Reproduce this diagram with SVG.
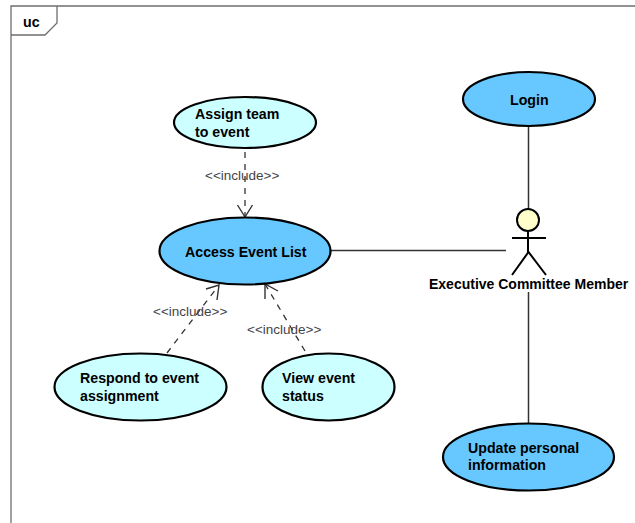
<svg xmlns="http://www.w3.org/2000/svg" width="635" height="523" viewBox="0 0 635 523">
<defs>
<style>
.frame{fill:none;stroke:#6e6e6e;stroke-width:1.3}
.uc{stroke:#000;stroke-width:2.2}
.blue{fill:#66c8ff}
.cyan{fill:#ccffff}
.t{font-family:"Liberation Sans",Arial,sans-serif;font-size:14.2px;font-weight:bold;fill:#000}
.a{font-size:14px}
.inc{font-family:"Liberation Sans",Arial,sans-serif;font-size:13.5px;fill:#444}
.assoc{fill:none;stroke:#333;stroke-width:1.5}
.dash{fill:none;stroke:#333;stroke-width:1.3;stroke-dasharray:6 6}
.head{fill:none;stroke:#333;stroke-width:1.4}
.stick{fill:none;stroke:#000;stroke-width:2}
</style>
</defs>
<rect x="0" y="0" width="635" height="523" fill="#fff"/>
<g id="frame">
<path class="frame" d="M11 523V6H635"/>
<path class="frame" d="M11 35H45L57 23V6"/>
<text class="t" x="23" y="27">uc</text>
</g>
<g id="connectors">
<path class="assoc" d="M528.500 127V209"/>
<path class="assoc" d="M331 250.500H506"/>
<path class="assoc" d="M528.500 292V423"/>
<path class="dash" d="M245 152V216"/>
<path class="head" d="M237.500 205L245 217L252.500 205"/>
<path class="dash" d="M167 353L219 285"/>
<path class="head" d="M206 289L219 285L217 300"/>
<path class="dash" d="M305 351L265 284"/>
<path class="head" d="M265 299L265 284L278 291"/>
<text class="inc" x="205" y="180">&lt;&lt;include&gt;&gt;</text>
<text class="inc" x="153" y="316">&lt;&lt;include&gt;&gt;</text>
<text class="inc" x="247" y="334">&lt;&lt;include&gt;&gt;</text>
</g>
<g id="login">
<ellipse class="uc blue" cx="529" cy="99" rx="66" ry="27"/>
<text class="t" x="510" y="105">Login</text>
</g>
<g id="assign">
<ellipse class="uc cyan" cx="245" cy="122.500" rx="71" ry="25.500"/>
<text class="t" x="195" y="119">Assign team</text>
<text class="t" x="195" y="137">to event</text>
</g>
<g id="access">
<ellipse class="uc blue" cx="245" cy="251" rx="85.500" ry="33.500"/>
<text class="t" x="185" y="257">Access Event List</text>
</g>
<g id="respond">
<ellipse class="uc cyan" cx="140.500" cy="387" rx="86" ry="33.500"/>
<text class="t" x="80" y="383">Respond to event</text>
<text class="t" x="80" y="401">assignment</text>
</g>
<g id="view">
<ellipse class="uc cyan" cx="328.500" cy="387" rx="66" ry="33.500"/>
<text class="t" x="282" y="383">View event</text>
<text class="t" x="282" y="401">status</text>
</g>
<g id="update">
<ellipse class="uc blue" cx="528.500" cy="457" rx="85.500" ry="33.500"/>
<text class="t" x="468" y="453">Update personal</text>
<text class="t" x="468" y="470">information</text>
</g>
<g id="actor">
<circle cx="528" cy="220" r="11" fill="#ffffcc" stroke="#000" stroke-width="2"/>
<path class="stick" d="M528 231V252M512 238H546M512 275L528.500 252L546 275"/>
<text class="t a" x="429" y="289">Executive Committee Member</text>
</g>
</svg>
